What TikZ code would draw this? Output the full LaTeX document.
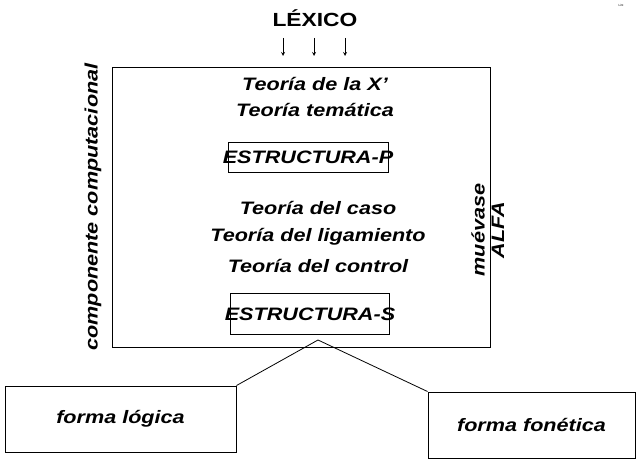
\documentclass[tikz,border=0pt]{standalone}
\usepackage{fontspec}
\setmainfont{Liberation Sans}
\newcommand{\widetxt}[1]{\scalebox{1.2}[1]{#1}}
\begin{document}
\begin{tikzpicture}[x=1pt,y=-1pt,
  t/.style={font=\fontsize{18}{20}\selectfont\bfseries\itshape},
  bx/.style={draw,line width=0.9pt},
  ln/.style={line width=0.8pt}]
\useasboundingbox (0,0) rectangle (640,465);
\fill[white] (0,0) rectangle (640,465);
\node[font=\fontsize{19}{20}\selectfont\bfseries] (lex) at (315,18) {\widetxt{LÉXICO}};
\node[font=\fontsize{3}{3}\selectfont] (lint) at (621,5) {Lint};
\node[bx,minimum width=378,minimum height=280] (main) at (301,207) {};
\foreach \x/\n in {283/a,314/b,345/c}{
  \coordinate (s\n) at (\x,38); \coordinate (e\n) at (\x,56);
  \draw[ln,-stealth] (s\n) -- (e\n);}
\node[t] (t1) at (315,84) {\widetxt{Teoría de la X'}};
\node[t] (t2) at (315,110) {\widetxt{Teoría temática}};
\node[bx,minimum width=160,minimum height=30] (ep) at (308,157) {};
\node[t] at (ep) {\widetxt{ESTRUCTURA-P}};
\node[t] (t3) at (318,208) {\widetxt{Teoría del caso}};
\node[t] (t4) at (318,237) {\widetxt{Teoría del ligamiento}};
\node[t] (t5) at (318,266) {\widetxt{Teoría del control}};
\node[bx,minimum width=159,minimum height=41] (es) at (310,314) {};
\node[t] at (es) {\widetxt{ESTRUCTURA-S}};
\node[t,rotate=90] (cc) at (93,207) {\widetxt{componente computacional}};
\node[t,rotate=90] (mv) at (478,230) {\widetxt{muévase}};
\node[t,rotate=90] (alfa) at (498,230) {\widetxt{ALFA}};
\node[bx,minimum width=231,minimum height=66] (fl) at (120.5,419) {};
\node[t] at (fl) {\widetxt{forma lógica}};
\node[bx,minimum width=207,minimum height=66] (ff) at (531.5,425) {};
\node[t] at (ff) {\widetxt{forma fonética}};
\coordinate (j) at (318,340);
\draw[ln] (fl.north east) -- (j) -- (ff.north west);
\end{tikzpicture}
\end{document}
